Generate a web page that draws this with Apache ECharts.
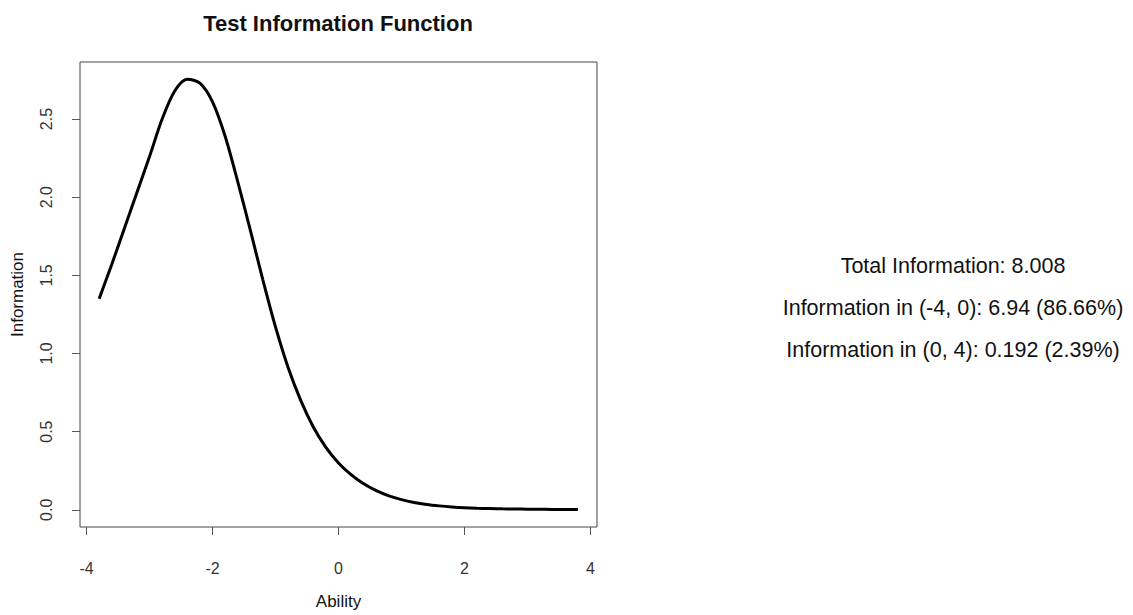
<!DOCTYPE html>
<html>
<head>
<meta charset="utf-8">
<script src="https://cdn.jsdelivr.net/npm/echarts@6/dist/echarts.min.js"></script>
<style>
html,body{margin:0;padding:0;background:#fff;}
#chart{width:1133px;height:615px;}
</style>
</head>
<body>
<div id="chart"></div>
<script>
// ---- data ----
const chartTitle = "Test Information Function";
const xAxisName = "Ability";
const yAxisName = "Information";
const ability = [-3.8,-3.6,-3.4,-3.2,-3.0,-2.8,-2.6,-2.4,-2.2,-2.0,-1.8,-1.6,-1.4,-1.2,-1.0,-0.8,-0.6,-0.4,-0.2,0.0,
                 0.2,0.4,0.6,0.8,1.0,1.2,1.4,1.6,1.8,2.0,2.2,2.4,2.6,2.8,3.0,3.2,3.4,3.6,3.8];
const information = [1.35,1.57,1.80,2.03,2.26,2.50,2.68,2.755,2.73,2.61,2.39,2.10,1.79,1.47,1.17,0.91,0.70,0.53,0.40,0.30,
                     0.225,0.166,0.122,0.089,0.065,0.047,0.034,0.025,0.018,0.013,0.010,0.008,0.006,0.005,0.004,0.003,0.002,0.002,0.001];
const xTicks = [-4,-2,0,2,4];
const yTicks = [0,0.5,1.0,1.5,2.0,2.5];
const infoLines = [
  "Total Information: 8.008",
  "Information in (-4, 0): 6.94 (86.66%)",
  "Information in (0, 4): 0.192 (2.39%)"
];

// R-style axis extension (4% of data range)
const xMinD = Math.min(...ability), xMaxD = Math.max(...ability);
const yMinD = 0, yMaxD = Math.max(...information);
const xPad = (xMaxD - xMinD) * 0.04, yPad = (yMaxD - yMinD) * 0.04;

const font = "'Liberation Sans', Arial, Helvetica, sans-serif";
const chart = echarts.init(document.getElementById('chart'), null, {renderer: 'svg'});

const option = {
  animation: false,
  backgroundColor: '#fff',
  grid: {
    left: 80, right: 536, top: 62, bottom: 79,
    show: true, borderColor: '#444', borderWidth: 1, backgroundColor: 'transparent'
  },
  xAxis: {
    type: 'value',
    min: xMinD - xPad, max: xMaxD + xPad,
    name: xAxisName, nameLocation: 'middle', nameGap: 66,
    nameTextStyle: {fontFamily: font, fontSize: 17, color: '#111'},
    axisLine: {show: false, onZero: false},
    axisTick: {show: true, customValues: xTicks, length: 8, lineStyle: {color: '#555', width: 1}},
    axisLabel: {customValues: xTicks, fontFamily: font, fontSize: 16, color: '#333', margin: 33,
                formatter: v => String(v)},
    splitLine: {show: false}
  },
  yAxis: {
    type: 'value',
    min: yMinD - yPad, max: yMaxD + yPad,
    name: yAxisName, nameLocation: 'middle', nameGap: 54,
    nameTextStyle: {fontFamily: font, fontSize: 17, color: '#111'},
    axisLine: {show: false, onZero: false},
    axisTick: {show: true, customValues: yTicks, length: 8, lineStyle: {color: '#555', width: 1}},
    axisLabel: {customValues: yTicks, fontFamily: font, fontSize: 16, color: '#333', rotate: 90, margin: 26,
                formatter: v => v.toFixed(1)},
    splitLine: {show: false}
  },
  series: [{
    type: 'line',
    data: ability.map((x, i) => [x, information[i]]),
    showSymbol: false,
    smooth: 0.3,
    lineStyle: {color: '#000', width: 3},
    silent: true
  }],
  graphic: [
    {type: 'text', x: 338, y: 23, style: {text: chartTitle, font: "bold 22px " + font, fill: '#111', textAlign: 'center', textVerticalAlign: 'middle'}},
    ...infoLines.map((t, i) => ({
      type: 'text', x: 953, y: 266 + i * 42,
      style: {text: t, font: "21.5px " + font, fill: '#111', textAlign: 'center', textVerticalAlign: 'middle'}
    }))
  ]
};
chart.setOption(option);
</script>
</body>
</html>
